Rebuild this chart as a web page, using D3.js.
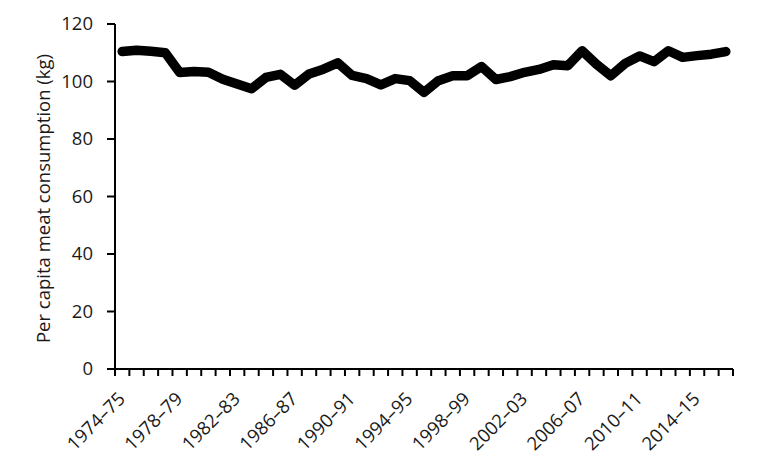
<!DOCTYPE html>
<html>
<head>
<meta charset="utf-8">
<script src="https://cdn.jsdelivr.net/npm/d3@7"></script>
<style>
  html, body { margin: 0; padding: 0; background: #fff; }
  #chart { width: 768px; height: 473px; }
  text { font-family: "Open Sans", sans-serif; fill: #1a1a1a; }
</style>
</head>
<body>
<div id="chart"></div>
<script>
// financial years 1974–75 .. 2016–17
const years = d3.range(1974, 2017).map(y => `${y}–${String((y + 1) % 100).padStart(2, "0")}`);

const consumption = [
  110.4, 110.9, 110.5, 110.0, 103.1, 103.5, 103.2, 100.8, 99.1, 97.5,
  101.4, 102.5, 98.7, 102.6, 104.3, 106.5, 102.1, 101.0, 98.8, 101.0,
  100.3, 96.2, 100.3, 102.0, 102.0, 105.2, 100.7, 101.7, 103.2, 104.2,
  105.8, 105.5, 110.7, 106.0, 102.0, 106.3, 108.9, 106.9, 110.7, 108.4,
  109.0, 109.5, 110.4
];

const yTicks = [0, 20, 40, 60, 80, 100, 120];
const labelEvery = 4;

const data = years.map((year, i) => ({ year, value: consumption[i] }));

const width = 768, height = 473;
const margin = { top: 24, right: 35, bottom: 104, left: 115 };
const innerW = width - margin.left - margin.right;
const innerH = height - margin.top - margin.bottom;
const fontSize = 18.5;

const svg = d3.select("#chart").append("svg")
  .attr("width", width)
  .attr("height", height);

const g = svg.append("g").attr("transform", `translate(${margin.left},${margin.top})`);

const x = d3.scaleBand()
  .domain(years)
  .range([0, innerW])
  .padding(0);

const y = d3.scaleLinear()
  .domain([0, 120])
  .range([innerH, 0]);

// x axis: ticks between categories, labels every 4th year
const xAxis = g.append("g")
  .attr("transform", `translate(0,${innerH})`);

xAxis.append("line")
  .attr("x1", 0).attr("x2", innerW)
  .attr("stroke", "#000").attr("stroke-width", 2);

xAxis.selectAll(".xtick")
  .data(d3.range(years.length + 1))
  .enter()
  .append("line")
  .attr("x1", i => i * x.step())
  .attr("x2", i => i * x.step())
  .attr("y1", 0).attr("y2", 7)
  .attr("stroke", "#000").attr("stroke-width", 2);

xAxis.selectAll(".xlabel")
  .data(years.filter((d, i) => i % labelEvery === 0))
  .enter()
  .append("text")
  .attr("text-anchor", "end")
  .attr("font-size", fontSize)
  .attr("transform", d => `translate(${x(d) + x.bandwidth() / 2 + 4},${31}) rotate(-45)`)
  .text(d => d);

// y axis
const yAxis = g.append("g");

yAxis.append("line")
  .attr("y1", 0).attr("y2", innerH)
  .attr("stroke", "#000").attr("stroke-width", 2);

yAxis.selectAll(".ytick")
  .data(yTicks)
  .enter()
  .append("line")
  .attr("x1", -8).attr("x2", 0)
  .attr("y1", d => y(d)).attr("y2", d => y(d))
  .attr("stroke", "#000").attr("stroke-width", 2);

yAxis.selectAll(".ylabel")
  .data(yTicks)
  .enter()
  .append("text")
  .attr("x", -22)
  .attr("y", d => y(d))
  .attr("dy", "0.35em")
  .attr("text-anchor", "end")
  .attr("font-size", fontSize)
  .text(d => d);

svg.append("text")
  .attr("transform", `translate(44,${margin.top + innerH / 2 + 2}) rotate(-90)`)
  .attr("text-anchor", "middle")
  .attr("dy", "0.35em")
  .attr("font-size", fontSize)
  .text("Per capita meat consumption (kg)");

// line
const line = d3.line()
  .x(d => x(d.year) + x.bandwidth() / 2)
  .y(d => y(d.value));

g.append("path")
  .datum(data)
  .attr("fill", "none")
  .attr("stroke", "#000")
  .attr("stroke-width", 9.5)
  .attr("stroke-linejoin", "round")
  .attr("stroke-linecap", "round")
  .attr("d", line);
</script>
</body>
</html>
